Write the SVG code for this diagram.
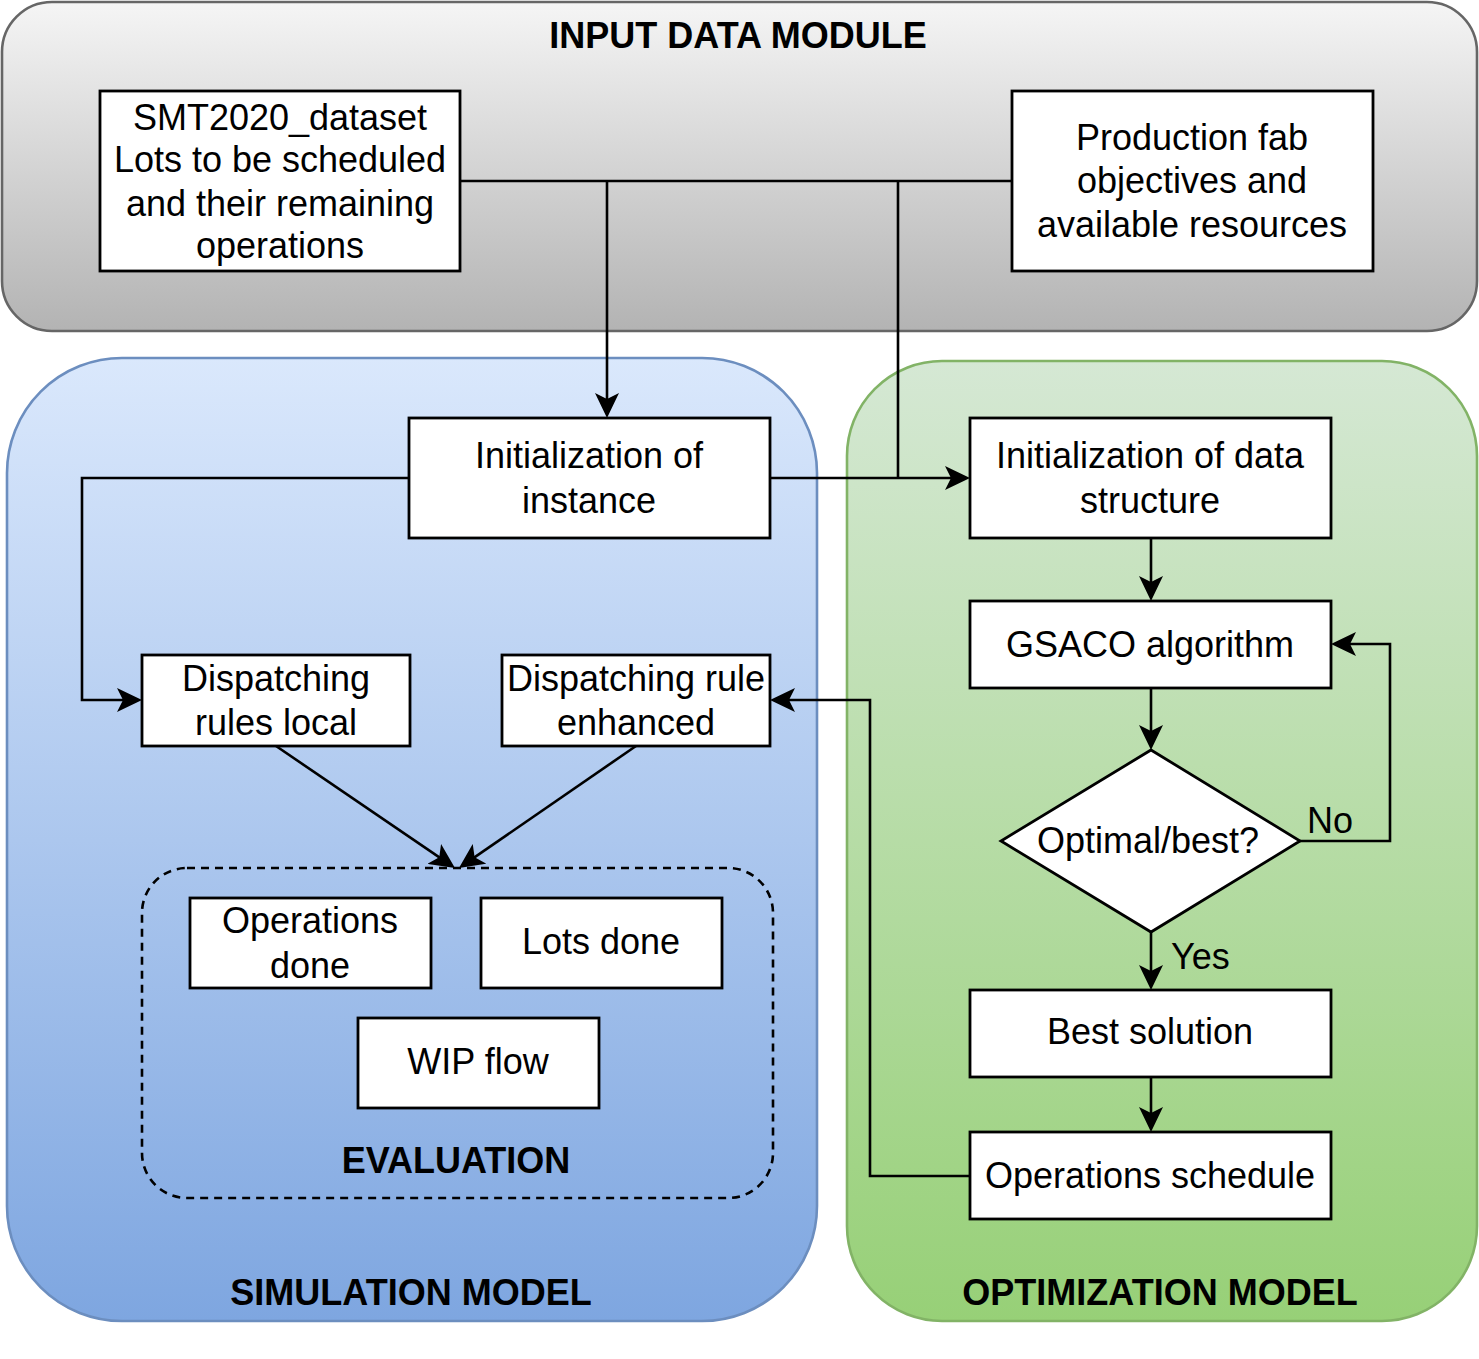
<svg xmlns="http://www.w3.org/2000/svg" width="1479" height="1359" viewBox="0 0 1479 1359">
<style>
  text { font-family: "Liberation Sans", Arial, sans-serif; font-size: 36px; fill: #000; }
  .c { text-anchor: middle; }
  .b { font-weight: bold; }
  .box { fill: #fff; stroke: #000; stroke-width: 2.8; }
  .ln { fill: none; stroke: #000; stroke-width: 2.6; }
</style>
<defs>
  <linearGradient id="gGray" x1="0" y1="0" x2="0" y2="1">
    <stop offset="0" stop-color="#f5f5f5"/>
    <stop offset="1" stop-color="#b3b3b3"/>
  </linearGradient>
  <linearGradient id="gBlue" x1="0" y1="0" x2="0" y2="1">
    <stop offset="0" stop-color="#dae8fc"/>
    <stop offset="1" stop-color="#7ea6e0"/>
  </linearGradient>
  <linearGradient id="gGreen" x1="0" y1="0" x2="0" y2="1">
    <stop offset="0" stop-color="#d5e8d4"/>
    <stop offset="1" stop-color="#97d077"/>
  </linearGradient>
  <marker id="arr" markerUnits="userSpaceOnUse" viewBox="0 0 25 24" markerWidth="25" markerHeight="24" refX="19" refY="12" orient="auto">
    <path d="M0,0 L25,12 L0,24 L6,12 Z" fill="#000"/>
  </marker>
</defs>

<g id="input-module">
  <rect x="2" y="2" width="1475" height="329" rx="50" ry="50" fill="url(#gGray)" stroke="#666666" stroke-width="2.6"/>
  <text class="c b" x="738" y="48">INPUT DATA MODULE</text>
</g>
<g id="simulation-model">
  <rect x="7" y="358" width="810" height="963" rx="115" ry="115" fill="url(#gBlue)" stroke="#6c8ebf" stroke-width="2.6"/>
  <text class="c b" x="411" y="1305">SIMULATION MODEL</text>
</g>
<g id="optimization-model">
  <rect x="847" y="361" width="630" height="960" rx="95" ry="95" fill="url(#gGreen)" stroke="#82b366" stroke-width="2.6"/>
  <text class="c b" x="1160" y="1305">OPTIMIZATION MODEL</text>
</g>
<g id="evaluation">
  <rect x="142" y="868" width="631" height="330" rx="45" ry="45" fill="none" stroke="#000" stroke-width="2.6" stroke-dasharray="8 6"/>
  <text class="c b" x="456" y="1173">EVALUATION</text>
</g>

<g id="connectors">
  <path class="ln" d="M460,181 H1012"/>
  <path class="ln" d="M607,181 V412" marker-end="url(#arr)"/>
  <path class="ln" d="M898,181 V478"/>
  <path class="ln" d="M770,478 H964" marker-end="url(#arr)"/>
  <path class="ln" d="M409,478 H82 V700 H136" marker-end="url(#arr)"/>
  <path class="ln" d="M276,746 L450,864.6" marker-end="url(#arr)"/>
  <path class="ln" d="M636,746 L463.9,864.6" marker-end="url(#arr)"/>
  <path class="ln" d="M1151,538 V595" marker-end="url(#arr)"/>
  <path class="ln" d="M1151,688 V744" marker-end="url(#arr)"/>
  <path class="ln" d="M1299,841 H1390 V644 H1337" marker-end="url(#arr)"/>
  <path class="ln" d="M1151,932 V984" marker-end="url(#arr)"/>
  <path class="ln" d="M1151,1077 V1126" marker-end="url(#arr)"/>
  <path class="ln" d="M970,1176 H870 V700 H776" marker-end="url(#arr)"/>
  <text x="1307" y="833">No</text>
  <text x="1171" y="969">Yes</text>
</g>

<g id="smt-dataset">
  <rect class="box" x="100" y="91" width="360" height="180"/>
  <text class="c" x="280" y="130">SMT2020_dataset</text>
  <text class="c" x="280" y="172">Lots to be scheduled</text>
  <text class="c" x="280" y="216">and their remaining</text>
  <text class="c" x="280" y="258">operations</text>
</g>
<g id="production-fab">
  <rect class="box" x="1012" y="91" width="361" height="180"/>
  <text class="c" x="1192" y="150">Production fab</text>
  <text class="c" x="1192" y="193">objectives and</text>
  <text class="c" x="1192" y="237">available resources</text>
</g>
<g id="init-instance">
  <rect class="box" x="409" y="418" width="361" height="120"/>
  <text class="c" x="589" y="468">Initialization of</text>
  <text class="c" x="589" y="513">instance</text>
</g>
<g id="init-data-structure">
  <rect class="box" x="970" y="418" width="361" height="120"/>
  <text class="c" x="1150" y="468">Initialization of data</text>
  <text class="c" x="1150" y="513">structure</text>
</g>
<g id="dispatching-local">
  <rect class="box" x="142" y="655" width="268" height="91"/>
  <text class="c" x="276" y="691">Dispatching</text>
  <text class="c" x="276" y="735">rules local</text>
</g>
<g id="dispatching-enhanced">
  <rect class="box" x="502" y="655" width="268" height="91"/>
  <text class="c" x="636" y="691">Dispatching rule</text>
  <text class="c" x="636" y="735">enhanced</text>
</g>
<g id="gsaco">
  <rect class="box" x="970" y="601" width="361" height="87"/>
  <text class="c" x="1150" y="657">GSACO algorithm</text>
</g>
<g id="optimal-best">
  <polygon class="box" points="1151,750 1300,841 1151,932 1001,841"/>
  <text class="c" x="1148" y="853">Optimal/best?</text>
</g>
<g id="best-solution">
  <rect class="box" x="970" y="990" width="361" height="87"/>
  <text class="c" x="1150" y="1044">Best solution</text>
</g>
<g id="operations-schedule">
  <rect class="box" x="970" y="1132" width="361" height="87"/>
  <text class="c" x="1150" y="1188">Operations schedule</text>
</g>
<g id="operations-done">
  <rect class="box" x="190" y="898" width="241" height="90"/>
  <text class="c" x="310" y="933">Operations</text>
  <text class="c" x="310" y="978">done</text>
</g>
<g id="lots-done">
  <rect class="box" x="481" y="898" width="241" height="90"/>
  <text class="c" x="601" y="954">Lots done</text>
</g>
<g id="wip-flow">
  <rect class="box" x="358" y="1018" width="241" height="90"/>
  <text class="c" x="478" y="1074">WIP flow</text>
</g>
</svg>
